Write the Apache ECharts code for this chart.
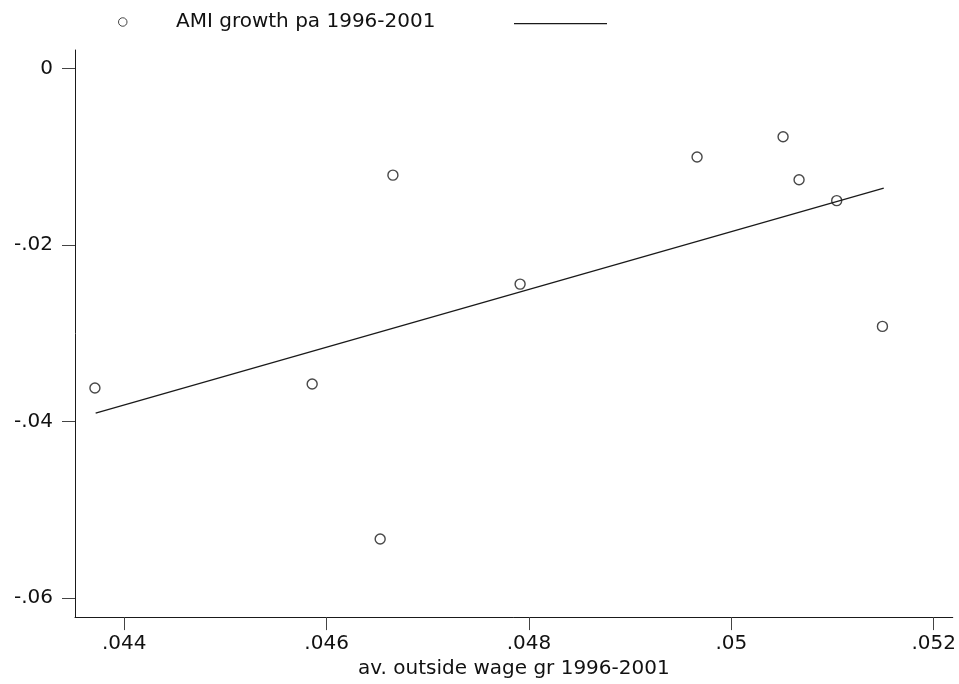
<!DOCTYPE html>
<html>
<head>
<meta charset="utf-8">
<script src="https://cdn.jsdelivr.net/npm/echarts@6/dist/echarts.min.js"></script>
<style>
html,body{margin:0;padding:0;background:#fff;}
#chart{width:959px;height:684px;}
</style>
</head>
<body>
<div id="chart"></div>
<script>
// Data
const pointX = [0.04371, 0.045857, 0.046529, 0.046655, 0.047912, 0.049661, 0.050511, 0.050669, 0.051041, 0.051493];
const pointY = [-0.03619, -0.03574, -0.05329, -0.01209, -0.02443, -0.01003, -0.00774, -0.01262, -0.01498, -0.02922];
const fitX = [0.043717, 0.051506];
const fitY = [-0.03905, -0.01355];

const xTicks = [0.044, 0.046, 0.048, 0.05, 0.052];
const xTickLabels = ['.044', '.046', '.048', '.05', '.052'];
const yTicks = [0, -0.02, -0.04, -0.06];
const yTickLabels = ['0', '-.02', '-.04', '-.06'];

const scatterName = 'AMI growth pa 1996-2001';
const fitName = 'Fitted values';
const xTitle = 'av. outside wage gr 1996-2001';

function labelFor(ticks, labels) {
  return function (v) {
    for (let i = 0; i < ticks.length; i++) {
      if (Math.abs(ticks[i] - v) < 1e-9) return labels[i];
    }
    return '';
  };
}

const FONT = 'DejaVu Sans';
const INK = '#1a1a1a';

const chart = echarts.init(document.getElementById('chart'), null, {renderer: 'canvas'});
chart.setOption({
  backgroundColor: '#ffffff',
  animation: false,
  textStyle: {fontFamily: FONT},
  grid: {left: 75, right: 6, top: 50, bottom: 63, containLabel: false},
  legend: [
    {
      left: 118, top: 12, padding: 0,
      itemWidth: 8.5, itemHeight: 8.5, itemGap: 0,
      data: [{name: scatterName, icon: 'circle', itemStyle: {color: '#ffffff', borderColor: INK, borderWidth: 1}}],
      textStyle: {fontFamily: FONT, fontSize: 20, color: '#111', padding: [0, 0, 0, 44]},
      selectedMode: false
    },
    {
      left: 514, top: 23, padding: 0,
      itemWidth: 93, itemHeight: 1.2, itemGap: 0,
      data: [{name: fitName, icon: 'rect', itemStyle: {color: INK, borderWidth: 0}}],
      formatter: function () { return ''; },
      textStyle: {fontFamily: FONT, fontSize: 1, color: '#111'},
      selectedMode: false
    }
  ],
  xAxis: {
    type: 'value',
    min: 0.043513,
    max: 0.052188,
    splitLine: {show: false},
    axisLine: {show: true, onZero: false, lineStyle: {color: INK, width: 1}},
    axisTick: {show: true, length: 13, lineStyle: {color: '#444', width: 1}, customValues: xTicks},
    axisLabel: {
      customValues: xTicks,
      formatter: labelFor(xTicks, xTickLabels),
      margin: 17, fontFamily: FONT, fontSize: 20, color: '#111'
    },
    name: xTitle,
    nameLocation: 'middle',
    nameGap: 40,
    nameTextStyle: {fontFamily: FONT, fontSize: 20, color: '#111'}
  },
  yAxis: {
    type: 'value',
    min: -0.06214,
    max: 0.00208,
    splitLine: {show: false},
    axisLine: {show: true, onZero: false, lineStyle: {color: INK, width: 1}},
    axisTick: {show: true, length: 13, lineStyle: {color: '#444', width: 1}, customValues: yTicks},
    axisLabel: {
      customValues: yTicks,
      formatter: labelFor(yTicks, yTickLabels),
      margin: 22, fontFamily: FONT, fontSize: 20, color: '#111'
    }
  },
  series: [
    {
      name: scatterName,
      type: 'scatter',
      symbol: 'circle',
      symbolSize: 10,
      itemStyle: {color: 'rgba(255,255,255,0)', borderColor: INK, borderWidth: 1.4},
      data: pointX.map((x, i) => [x, pointY[i]]),
      z: 3
    },
    {
      name: fitName,
      type: 'line',
      symbol: 'none',
      itemStyle: {color: INK},
      lineStyle: {color: INK, width: 1.3},
      data: fitX.map((x, i) => [x, fitY[i]]),
      z: 2
    }
  ]
});
</script>
</body>
</html>
